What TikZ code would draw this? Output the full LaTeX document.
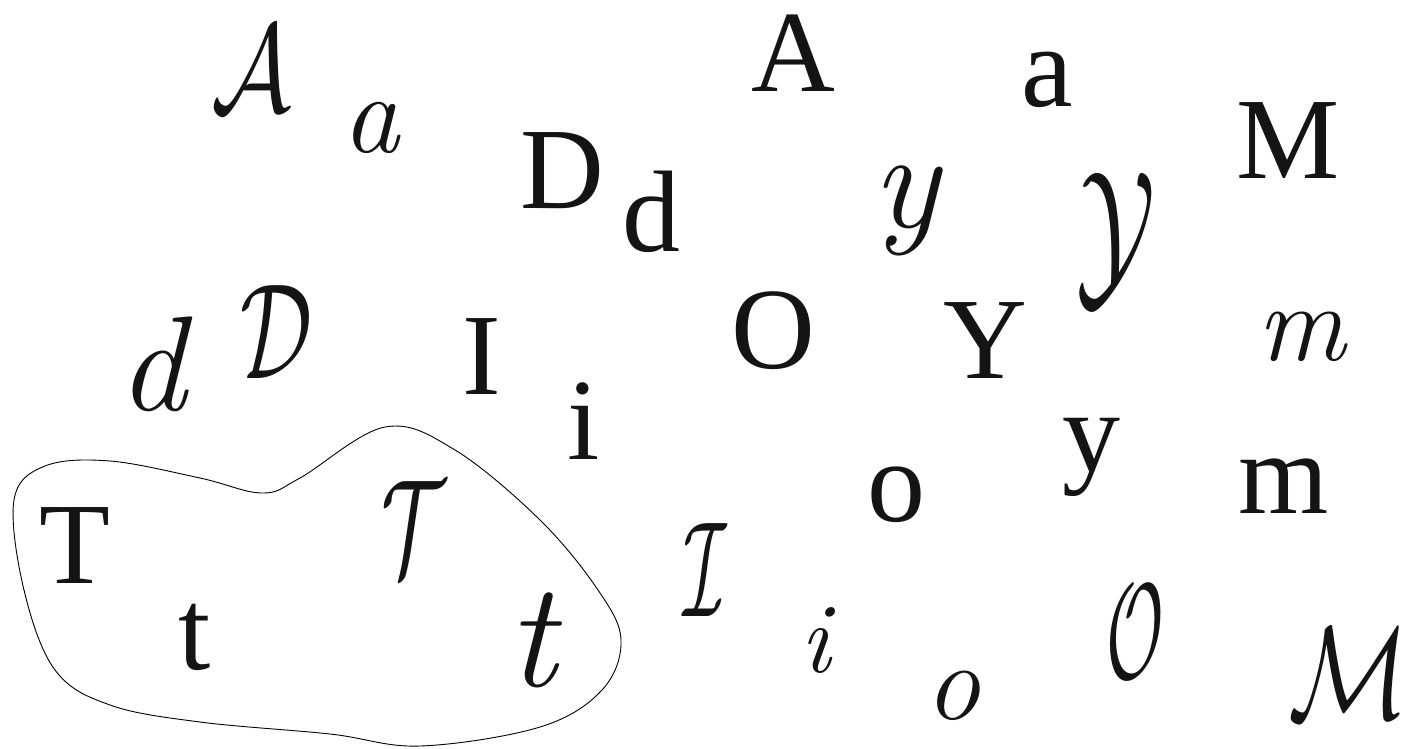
\documentclass[tikz,border=0pt]{standalone}
\usepackage{fontspec}
\usepackage{graphicx}
\newfontfamily\serifL{Liberation Serif}
\newcommand\calL[3]{\scalebox{#1}[#2]{$\mathcal{#3}$}}
\newcommand\curL[2]{{\fontsize{#1}{#1}\selectfont\itshape #2}}
\tikzset{
  roman/.style={inner sep=0pt, text=black!92, font=\serifL\fontsize{116}{116}\selectfont},
  cur/.style={inner sep=0pt, text=black!92},
  blob/.style={draw=black, line width=0.9pt},
}
\begin{document}
\begin{tikzpicture}[x=1pt,y=-1pt]
\useasboundingbox[fill=white] (0,0) rectangle (1407,748);
% serif letters
\node[roman] (A)  at (793,53)   {A};
\node[roman] (a)  at (1047,80)  {a};
\node[roman] (M)  at (1288,141) {M};
\node[roman] (D)  at (562,171)  {D};
\node[roman] (d)  at (651,212)  {d};
\node[roman] (O)  at (773,331)  {O};
\node[roman] (Y)  at (985,341)  {Y};
\node[roman] (I)  at (482,357)  {I};
\node[roman] (i)  at (584,421)  {i};
\node[roman] (y)  at (1091,457) {y};
\node[roman] (m)  at (1284,486) {m};
\node[roman] (o)  at (896,495)  {o};
\node[roman] (T)  at (75,546)   {T};
\node[roman] (t)  at (195,637)  {t};
% cursive letters
\node[cur] (cA) at (251,69)   {\calL{10}{12.5}{A}};
\node[cur] (ca) at (371,128)  {\curL{114}{a}};
\node[cur] (cd) at (152,364)  {\curL{135}{d}};
\node[cur] (cD) at (276,332)  {\calL{9}{13.6}{D}};
\node[cur] (cy) at (906,211)  {\curL{140}{y}};
\node[cur] (cY) at (1116,240) {\calL{10.5}{17}{Y}};
\node[cur] (cm) at (1301,337) {\curL{110}{m}};
\node[cur] (cT) at (413,528)  {\calL{8}{13.6}{T}};
\node[cur] (ct) at (532,640)  {\curL{150}{t}};
\node[cur] (cI) at (705,570)  {\calL{7}{13.6}{I}};
\node[cur] (ci) at (815,640)  {\curL{100}{i}};
\node[cur] (co) at (953,696)  {\curL{110}{o}};
\node[cur] (cO) at (1135,632) {\calL{7}{13.6}{O}};
\node[cur] (cM) at (1349,673) {\calL{10}{13.2}{M}};
% enclosing blob
\draw[blob] plot[smooth cycle, tension=0.6] coordinates {
  (14,500) (45,466) (110,461) (200,478) (262,493) (300,478) (385,427)
  (455,450) (540,520) (598,590) (621,640) (602,690) (540,727) (420,746)
  (330,734) (200,722) (110,705) (55,670) (24,590)};
\end{tikzpicture}
\end{document}
